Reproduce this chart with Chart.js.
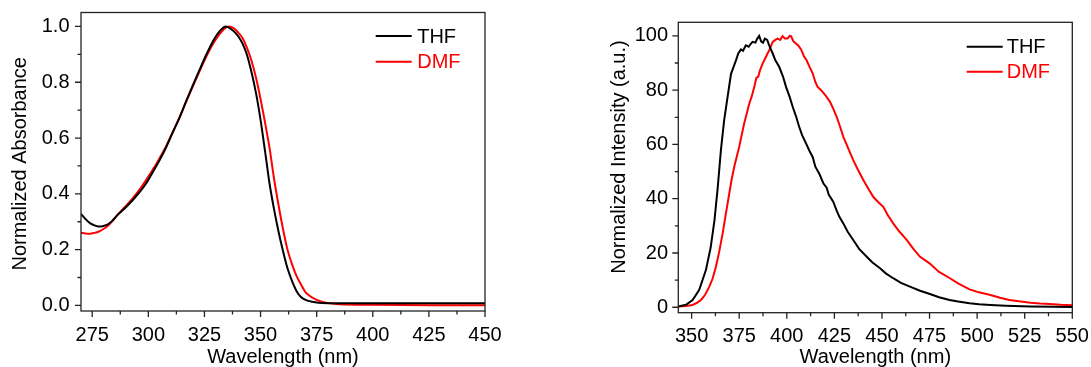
<!DOCTYPE html>
<html><head><meta charset="utf-8">
<script src="https://cdn.jsdelivr.net/npm/chart.js@4"></script>
<style>
html,body{margin:0;padding:0;background:#fff;width:1091px;height:367px;overflow:hidden}
.wrap{position:absolute;top:0;height:367px}
</style></head><body>
<div class="wrap" style="left:0;width:545px"><canvas id="c1" width="545" height="367"></canvas></div>
<div class="wrap" style="left:545px;width:546px"><canvas id="c2" width="546" height="367"></canvas></div>
<script>
// ---------- Absorbance (left) ----------
const absThfWl  = [270,272,274,276,278,280,282,284,286,288,290,293,296,299,302,305,308,311,314,317,320,323,326,329,332,334.5,337,339,341,343,344,346,348,350,352,354,356,358,360,362,364,366,368,370,373,377,385,400,425,450];
const absThfVal = [0.328,0.310,0.295,0.287,0.283,0.285,0.291,0.304,0.322,0.337,0.352,0.377,0.405,0.437,0.478,0.520,0.568,0.622,0.675,0.735,0.792,0.848,0.902,0.950,0.985,1.000,0.990,0.975,0.953,0.920,0.897,0.835,0.760,0.665,0.553,0.437,0.345,0.265,0.195,0.133,0.088,0.052,0.030,0.020,0.013,0.009,0.008,0.008,0.008,0.008];
const absDmfWl  = [270,272,274,276,278,280,282,284,286,288,290,293,296,299,302,305,308,311,314,317,320,323,326,329,332,334,336,338,340,342,344,346,348,350,352,354,356,358,360,362,364,366,368,370,372,375,379,385,400,425,450];
const absDmfVal = [0.261,0.258,0.257,0.260,0.265,0.274,0.286,0.302,0.322,0.340,0.357,0.384,0.414,0.449,0.487,0.528,0.572,0.624,0.676,0.733,0.788,0.843,0.895,0.940,0.975,0.993,1.000,0.994,0.978,0.958,0.922,0.876,0.815,0.740,0.655,0.565,0.455,0.360,0.274,0.200,0.148,0.106,0.075,0.048,0.034,0.020,0.010,0.004,0.002,0.001,0.001];
const absXTicks = [275,300,325,350,375,400,425,450];
const absXMinor = [287.5,312.5,337.5,362.5,387.5,412.5,437.5];
const absYTicks = [0,0.2,0.4,0.6,0.8,1.0];
const absYMinor = [0.1,0.3,0.5,0.7,0.9];

// ---------- Emission (right) ----------
const emThfWl  = [343,347,350.5,354,357.5,360,362,363.7,365.4,367.1,368.9,370.7,372,373.3,374.5,375.9,377,378.5,380,381,382,383.5,384.5,385.5,386.5,387.5,388.5,389.7,391,392.6,394,396,398,399.6,401.5,403.1,405,406.5,408,410.1,412,413.6,415,417,419.2,421,422,424.4,426,427.5,429.7,432,434.9,438,442,445,449,452,455.9,460,464.7,470,475.2,480,485.5,490,496,501,507,515,528,540,550];
const emThfVal = [0.3,0.9,2.7,6.4,13.7,22,32,44,58,69,77.5,86,88.5,91,93.5,95,94.5,96.5,96,97,97.8,97.5,99,100,98,97.5,99,98.5,96,93.5,91,88.6,85,81.2,77.5,73.9,70,66.5,63.5,60.4,57.5,55.4,51.8,49.3,45.7,44,41.5,38.9,36,33.5,30.9,27.8,24.8,21.5,18.6,16.5,14.4,12.5,10.7,9,7.6,6.1,4.9,3.7,2.7,2.1,1.5,1.1,0.85,0.6,0.3,0.2,0.1];
const emDmfWl  = [343,347,350.5,353,354.9,357,359.3,361,362.8,364.5,366.3,368,369.8,371,372.4,373.7,375,376.3,377.6,379,380.3,381.5,382.9,384,385,386,387.3,388.5,389.9,391,392.6,394,395.2,396.5,397.8,399,400.4,401.5,402.2,403.5,404.8,406,407.5,409,410.4,412,413.6,415,416.2,418,420.2,422.7,424.5,426.2,428,429.7,432,434.9,437.5,440.2,443,445.4,448,450.7,453,455.9,459,463,466.5,470,475,480,485.7,490,496,501,507,512,517,522,528,533,538,544,550];
const emDmfVal = [0.3,0.5,0.85,1.7,2.7,4.5,7.6,10.5,15,20.5,27.2,34.5,42,47,51.8,55.5,59.1,63.5,67.7,71.5,75.1,77.5,81.2,84.5,85,87.5,89.8,91.5,93.5,95,97.8,98.5,99,98.5,99.9,99,99,100,99.9,98,97.2,96.5,95,92.5,91,88.5,86.2,83,81.2,80,78.2,75.7,73,70.2,66.5,62.8,59,54.2,50.5,46.9,43.5,40.7,38.8,37,34,30.9,28,24.8,21.5,18.6,16.2,13,10.7,8.8,6.6,5.5,4.5,3.5,2.7,2.2,1.7,1.4,1.2,0.9,0.7];
const emXTicks = [350,375,400,425,450,475,500,525,550];
const emXMinor = [362.5,387.5,412.5,437.5,462.5,487.5,512.5,537.5];
const emYTicks = [0,20,40,60,80,100];
const emYMinor = [10,30,50,70,90];

const seriesLabels = ['THF','DMF'];
const seriesColors = ['#000000','#ff0000'];

const FONT = "'Liberation Sans', Arial, sans-serif";

const frameTicks = {
  id: 'frameTicks',
  afterDatasetsDraw(chart, args, o) {
    const {ctx, chartArea: a, scales: {x, y}} = chart;
    ctx.save();
    ctx.strokeStyle = '#222';
    ctx.lineWidth = 1.3;
    ctx.strokeRect(a.left, a.top, a.right - a.left, a.bottom - a.top);
    ctx.beginPath();
    o.xMajor.forEach(v => { const p = x.getPixelForValue(v); ctx.moveTo(p, a.bottom); ctx.lineTo(p, a.bottom + 6); });
    o.xMinor.forEach(v => { const p = x.getPixelForValue(v); ctx.moveTo(p, a.bottom); ctx.lineTo(p, a.bottom + 3.5); });
    o.yMajor.forEach(v => { const p = y.getPixelForValue(v); ctx.moveTo(a.left, p); ctx.lineTo(a.left - 6, p); });
    o.yMinor.forEach(v => { const p = y.getPixelForValue(v); ctx.moveTo(a.left, p); ctx.lineTo(a.left - 3.5, p); });
    ctx.stroke();
    // y-axis title
    ctx.font = '20px ' + FONT;
    ctx.fillStyle = '#000';
    ctx.textAlign = 'center';
    ctx.textBaseline = 'middle';
    ctx.save();
    ctx.translate(o.yTitleX, o.yTitleY);
    ctx.rotate(-Math.PI / 2);
    ctx.fillText(o.yTitle, 0, 0);
    ctx.restore();
    // legend
    ctx.textAlign = 'left';
    chart.data.datasets.forEach((ds, i) => {
      const ly = a.top + o.legTop + i * o.legGap;
      const lx = a.left + o.legLeft;
      ctx.strokeStyle = ds.borderColor;
      ctx.lineWidth = 2;
      ctx.beginPath(); ctx.moveTo(lx, ly); ctx.lineTo(lx + 36, ly); ctx.stroke();
      ctx.fillStyle = ds.borderColor;
      ctx.fillText(ds.label, lx + 36 + o.legText, ly + 1);
    });
    ctx.restore();
  }
};

function pts(wl, val) { return wl.map((w, i) => ({x: w, y: val[i]})); }

function makeChart(id, cfg) {
  return new Chart(document.getElementById(id), {
    type: 'line',
    data: {
      datasets: cfg.series.map((s, i) => ({
        label: seriesLabels[i],
        data: pts(s[0], s[1]),
        borderColor: seriesColors[i],
        borderWidth: 2,
        pointRadius: 0,
        fill: false,
        cubicInterpolationMode: cfg.smooth ? 'monotone' : 'default',
        tension: 0
      }))
    },
    options: {
      responsive: false,
      animation: false,
      devicePixelRatio: 1,
      layout: {padding: cfg.pad},
      plugins: {
        legend: {display: false},
        tooltip: {enabled: false},
        frameTicks: {xMajor: cfg.xT, xMinor: cfg.xM, yMajor: cfg.yT, yMinor: cfg.yM,
                     legTop: cfg.legTop, legLeft: cfg.legLeft, legGap: cfg.legGap, legText: cfg.legText,
                     yTitle: cfg.yTitle, yTitleX: cfg.yTitleX, yTitleY: cfg.yTitleY}
      },
      scales: {
        x: {
          type: 'linear', min: cfg.xMin, max: cfg.xMax,
          afterBuildTicks: s => { s.ticks = cfg.xT.map(v => ({value: v})); },
          afterFit: s => { s.height = cfg.xH; s.paddingLeft = 0; s.paddingRight = 0; },
          grid: {display: false, drawTicks: false},
          border: {display: false},
          ticks: {color: '#000', font: {family: FONT, size: 20}, padding: 12, maxRotation: 0, autoSkip: false,
                  callback: v => String(v)},
          title: {display: true, text: 'Wavelength (nm)', color: '#000', font: {family: FONT, size: 20}, padding: {top: 0, bottom: -2.5}}
        },
        y: {
          type: 'linear', min: cfg.yMin, max: cfg.yMax,
          afterBuildTicks: s => { s.ticks = cfg.yT.map(v => ({value: v})); },
          afterFit: s => { s.width = cfg.yW; s.paddingTop = 0; s.paddingBottom = 0; },
          grid: {display: false, drawTicks: false},
          border: {display: false},
          ticks: {color: '#000', font: {family: FONT, size: 20}, padding: cfg.yPad, autoSkip: false,
                  callback: cfg.yFmt},
          title: {display: false}
        }
      }
    },
    plugins: [frameTicks]
  });
}

makeChart('c1', {
  series: [[absThfWl, absThfVal], [absDmfWl, absDmfVal]],
  smooth: true,
  xMin: 270, xMax: 450, yMin: -0.02, yMax: 1.05,
  xT: absXTicks, xM: absXMinor, yT: absYTicks, yM: absYMinor,
  pad: {left: 0, right: 60, top: 12.5, bottom: 0},
  xH: 56, yW: 81, yPad: 11.5,
  yFmt: v => v.toFixed(1),
  yTitle: 'Normalized Absorbance', yTitleX: 20, yTitleY: 163.8,
  legTop: 23.5, legLeft: 294.7, legGap: 25.7, legText: 5.5
});

makeChart('c2', {
  series: [[emThfWl, emThfVal], [emDmfWl, emDmfVal]],
  smooth: false,
  xMin: 343, xMax: 550, yMin: -2, yMax: 105,
  xT: emXTicks, xM: emXMinor, yT: emYTicks, yM: emYMinor,
  pad: {left: 0, right: 18.7, top: 22.3, bottom: 0},
  xH: 54.3, yW: 133.3, yPad: 10.3,
  yFmt: v => String(v),
  yTitle: 'Normalized Intensity (a.u.)', yTitleX: 74.3, yTitleY: 157,
  legTop: 24.4, legLeft: 288.4, legGap: 25, legText: 4
});
</script>
</body></html>
